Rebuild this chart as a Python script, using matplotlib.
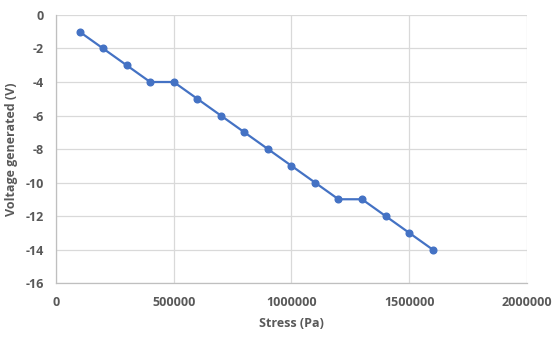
import matplotlib
matplotlib.use("Agg")
import matplotlib.pyplot as plt

# Stress (Pa) vs generated voltage (V)
stress = [100000, 200000, 300000, 400000, 500000, 600000, 700000, 800000,
          900000, 1000000, 1100000, 1200000, 1300000, 1400000, 1500000, 1600000]
voltage = [-1, -2, -3, -4, -4, -5, -6, -7, -8, -9, -10, -11, -11, -12, -13, -14]

x_ticks = [0, 500000, 1000000, 1500000, 2000000]
y_ticks = [0, -2, -4, -6, -8, -10, -12, -14, -16]

text_color = "#595959"
grid_color = "#d9d9d9"

plt.rcParams["font.family"] = ["Open Sans", "DejaVu Sans"]

fig = plt.figure(figsize=(5.58, 3.40), dpi=100)
ax = fig.add_axes([0.1004, 0.1676, 0.8436, 0.7883])

ax.plot(stress, voltage, color="#4472C4", linewidth=1.6,
        marker="o", markersize=4.8, zorder=3)

ax.set_xlim(0, 2000000)
ax.set_ylim(-16, 0)
ax.set_xticks(x_ticks)
ax.set_xticklabels([str(t) for t in x_ticks])
ax.set_yticks(y_ticks)
ax.set_yticklabels([str(t) for t in y_ticks])

ax.grid(True, color=grid_color, linewidth=0.9)
ax.set_axisbelow(True)
for side in ["top", "right"]:
    ax.spines[side].set_visible(False)
for side in ["left", "bottom"]:
    ax.spines[side].set_color("#bfbfbf")
    ax.spines[side].set_linewidth(0.9)

ax.tick_params(length=0, labelsize=9, labelcolor=text_color, pad=9)
for lbl in ax.get_xticklabels() + ax.get_yticklabels():
    lbl.set_fontweight("bold")

ax.set_xlabel("Stress (Pa)", fontsize=9, fontweight="bold",
              color=text_color, labelpad=6)
ax.set_ylabel("Voltage generated (V)", fontsize=9, fontweight="bold",
              color=text_color, labelpad=5)

fig.savefig("out.png", dpi=100)
